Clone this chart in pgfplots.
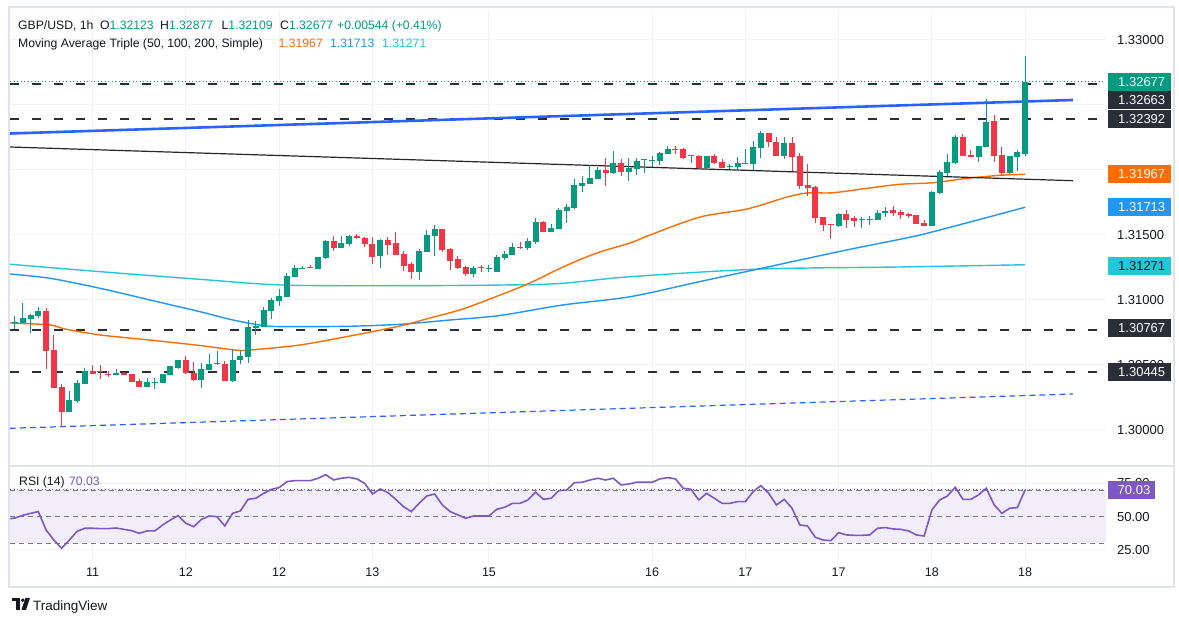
\documentclass[border=0pt]{standalone}
\usepackage{pgfplots}
\pgfplotsset{compat=1.18}
\usepackage{pgfplotstable}
\usepackage{fontspec}
\setmainfont{Liberation Sans}
\definecolor{tvgreen}{HTML}{089981}
\definecolor{tvred}{HTML}{F23645}
\definecolor{maor}{HTML}{FF6D00}
\definecolor{mabl}{HTML}{2196F3}
\definecolor{macy}{HTML}{26C6DA}
\definecolor{tline}{HTML}{2962FF}
\definecolor{txt}{HTML}{131722}
\definecolor{gridc}{HTML}{F0F3FA}
\definecolor{bord}{HTML}{E0E3EB}
\definecolor{hline}{HTML}{2A2E39}
\definecolor{rsic}{HTML}{7E57C2}
\definecolor{rsibg}{HTML}{F2EEF9}
\definecolor{bandc}{HTML}{787B86}

\pgfplotstableread{
i o h l c
0 1.30823 1.30877 1.30777 1.30831
1 1.30825 1.30977 1.30823 1.30862
2 1.30856 1.30892 1.30748 1.30887
3 1.30879 1.30946 1.30864 1.30915
7 1.30141 1.30302 1.30141 1.30231
8 1.30225 1.30385 1.30210 1.30362
9 1.30356 1.30475 1.30356 1.30454
13 1.30425 1.30469 1.30425 1.30438
17 1.30333 1.30400 1.30333 1.30367
18 1.30364 1.30400 1.30318 1.30369
19 1.30364 1.30428 1.30364 1.30428
20 1.30425 1.30490 1.30425 1.30490
21 1.30479 1.30536 1.30472 1.30536
24 1.30385 1.30513 1.30325 1.30469
25 1.30464 1.30582 1.30464 1.30508
26 1.30508 1.30605 1.30498 1.30513
28 1.30377 1.30623 1.30372 1.30538
29 1.30538 1.30615 1.30505 1.30569
30 1.30564 1.30846 1.30518 1.30792
31 1.30787 1.30838 1.30731 1.30802
32 1.30792 1.30944 1.30792 1.30923
33 1.30918 1.31013 1.30856 1.31000
34 1.30995 1.31085 1.30956 1.31031
35 1.31025 1.31205 1.31025 1.31185
36 1.31179 1.31269 1.31179 1.31244
37 1.31241 1.31259 1.31241 1.31246
39 1.31241 1.31331 1.31241 1.31331
40 1.31325 1.31462 1.31318 1.31454
42 1.31402 1.31492 1.31402 1.31438
43 1.31433 1.31500 1.31418 1.31495
47 1.31338 1.31467 1.31248 1.31462
52 1.31218 1.31392 1.31152 1.31377
53 1.31372 1.31538 1.31372 1.31498
54 1.31495 1.31579 1.31341 1.31544
59 1.31202 1.31259 1.31179 1.31246
61 1.31236 1.31269 1.31218 1.31244
62 1.31218 1.31346 1.31218 1.31331
63 1.31325 1.31377 1.31310 1.31354
64 1.31346 1.31438 1.31346 1.31408
66 1.31402 1.31475 1.31385 1.31454
67 1.31448 1.31631 1.31431 1.31600
69 1.31525 1.31585 1.31525 1.31554
70 1.31546 1.31705 1.31546 1.31692
71 1.31685 1.31738 1.31595 1.31715
72 1.31708 1.31928 1.31700 1.31885
73 1.31879 1.31954 1.31831 1.31900
74 1.31895 1.32036 1.31895 1.31938
75 1.31933 1.32025 1.31933 1.32000
77 1.31977 1.32146 1.31972 1.32054
79 1.31987 1.32092 1.31915 1.32015
80 1.32010 1.32092 1.31959 1.32067
81 1.32075 1.32082 1.31979 1.32082
82 1.32072 1.32108 1.32021 1.32077
83 1.32072 1.32138 1.32041 1.32133
84 1.32125 1.32185 1.32125 1.32162
87 1.32108 1.32113 1.32056 1.32113
89 1.32018 1.32108 1.32018 1.32108
92 1.32025 1.32044 1.32010 1.32033
93 1.32025 1.32098 1.32000 1.32056
94 1.32048 1.32162 1.32048 1.32056
95 1.32048 1.32221 1.32000 1.32177
96 1.32172 1.32302 1.32095 1.32287
99 1.32110 1.32254 1.32082 1.32208
106 1.31569 1.31667 1.31559 1.31659
109 1.31615 1.31636 1.31556 1.31623
110 1.31615 1.31644 1.31577 1.31623
111 1.31615 1.31690 1.31615 1.31672
112 1.31672 1.31713 1.31641 1.31687
118 1.31572 1.31836 1.31572 1.31828
119 1.31823 1.32000 1.31815 1.31985
120 1.31977 1.32123 1.31956 1.32062
121 1.32054 1.32272 1.32046 1.32254
124 1.32102 1.32185 1.32064 1.32185
125 1.32177 1.32546 1.32177 1.32372
128 1.31977 1.32108 1.31969 1.32108
129 1.32100 1.32156 1.31995 1.32138
130 1.32123 1.32877 1.32109 1.32677
}\greendata

\pgfplotstableread{
i o h l c
4 1.30915 1.30936 1.30469 1.30610
5 1.30615 1.30731 1.30325 1.30325
6 1.30331 1.30354 1.30021 1.30141
10 1.30454 1.30498 1.30433 1.30433
11 1.30454 1.30498 1.30395 1.30444
12 1.30433 1.30454 1.30410 1.30425
14 1.30441 1.30448 1.30425 1.30425
15 1.30431 1.30431 1.30372 1.30372
16 1.30377 1.30392 1.30333 1.30333
22 1.30536 1.30569 1.30428 1.30436
23 1.30436 1.30525 1.30377 1.30385
27 1.30508 1.30533 1.30379 1.30379
38 1.31254 1.31269 1.31246 1.31246
41 1.31454 1.31492 1.31379 1.31402
44 1.31492 1.31505 1.31467 1.31475
45 1.31475 1.31482 1.31410 1.31431
46 1.31431 1.31485 1.31277 1.31333
48 1.31462 1.31482 1.31346 1.31423
49 1.31438 1.31523 1.31348 1.31348
50 1.31354 1.31377 1.31225 1.31262
51 1.31277 1.31292 1.31164 1.31218
55 1.31544 1.31544 1.31367 1.31387
56 1.31392 1.31402 1.31233 1.31302
57 1.31315 1.31336 1.31238 1.31248
58 1.31254 1.31259 1.31185 1.31202
60 1.31252 1.31269 1.31218 1.31244
65 1.31408 1.31444 1.31392 1.31400
68 1.31600 1.31608 1.31525 1.31525
76 1.32000 1.32092 1.31879 1.31979
78 1.32054 1.32085 1.31956 1.31987
85 1.32162 1.32185 1.32125 1.32154
86 1.32162 1.32169 1.32087 1.32090
88 1.32108 1.32118 1.32010 1.32018
90 1.32108 1.32123 1.32044 1.32056
91 1.32062 1.32085 1.32018 1.32018
97 1.32287 1.32287 1.32177 1.32213
98 1.32218 1.32254 1.32110 1.32110
100 1.32208 1.32254 1.31995 1.32102
101 1.32108 1.32128 1.31852 1.31879
102 1.31887 1.32046 1.31802 1.31864
103 1.31867 1.31877 1.31590 1.31633
104 1.31641 1.31641 1.31528 1.31579
105 1.31585 1.31585 1.31467 1.31577
107 1.31659 1.31692 1.31552 1.31618
108 1.31631 1.31644 1.31564 1.31610
113 1.31692 1.31723 1.31648 1.31669
114 1.31677 1.31692 1.31621 1.31654
115 1.31662 1.31672 1.31631 1.31648
116 1.31654 1.31654 1.31587 1.31587
117 1.31592 1.31618 1.31572 1.31572
122 1.32254 1.32279 1.32110 1.32110
123 1.32115 1.32154 1.32100 1.32100
126 1.32377 1.32423 1.32062 1.32108
127 1.32115 1.32177 1.31954 1.31977
}\reddata

\pgfplotstableread{
i r
-0.6 48.5
0 49.0
1 51.0
2 52.5
3 53.8
4 40.0
5 32.5
6 26.3
7 32.5
8 39.0
9 41.3
10 41.3
11 41.0
12 41.0
13 41.5
14 40.5
15 39.5
16 37.5
17 39.3
18 39.3
19 43.8
20 47.5
21 50.8
22 45.0
23 42.5
24 48.0
25 50.5
26 50.0
27 43.0
28 52.5
29 54.3
30 63.0
31 63.8
32 67.5
33 70.5
34 71.8
35 76.3
36 77.0
37 77.0
38 77.0
39 78.8
40 81.5
41 77.5
42 78.8
43 79.5
44 78.3
45 75.0
46 67.0
47 70.8
48 68.0
49 63.0
50 57.5
51 53.8
52 60.0
53 65.5
54 67.0
55 58.8
56 53.8
57 51.3
58 48.8
59 50.5
60 50.5
61 50.5
62 55.5
63 57.0
64 60.0
65 60.0
66 62.5
67 68.3
68 63.0
69 63.8
70 69.5
71 70.0
72 75.5
73 75.8
74 77.5
75 78.8
76 77.5
77 78.8
78 73.8
79 74.5
80 75.8
81 75.8
82 75.8
83 78.3
84 79.3
85 78.3
86 71.3
87 70.5
88 62.5
89 67.5
90 63.8
91 60.0
92 60.0
93 61.3
94 61.3
95 68.8
96 73.3
97 67.5
98 58.8
99 63.0
100 56.3
101 43.8
102 43.0
103 34.5
104 32.5
105 32.0
106 38.0
107 36.3
108 36.0
109 36.0
110 36.3
111 41.3
112 41.8
113 40.8
114 40.5
115 39.3
116 36.3
117 35.5
118 55.0
119 62.5
120 65.5
121 72.0
122 63.0
123 63.0
124 66.3
125 71.3
126 59.0
127 52.5
128 56.3
129 56.8
130 70.03
}\rsidata

\begin{document}
\begin{tikzpicture}[x=1pt,y=1pt]
\useasboundingbox (0,0) rectangle (1179,623);
\fill[white] (0,0) rectangle (1179,623);

% ---------- price pane ----------
\begin{axis}[at={(10pt,157pt)}, anchor=south west, scale only axis,
  width=1096pt, height=456pt,
  xmin=-0.643, xmax=140.41, ymin=1.297231, ymax=1.332308,
  axis line style={draw=none}, major tick length=0pt,
  xtick={10,22,34,46,61,82,94,106,118,130}, xticklabels={},
  ytick={1.300,1.305,1.310,1.315,1.320,1.325,1.330},
  yticklabels={1.30000,1.30500,1.31000,1.31500,,,1.33000},
  grid=major, major grid style={draw=gridc, line width=1pt},
  yticklabel pos=right, scaled y ticks=false,
  yticklabel style={font=\fontsize{13}{15}\selectfont, text=txt, anchor=west, xshift=7.5pt},
  clip=true]
% horizontal levels
\addplot[hline, line width=2pt, dash pattern=on 9pt off 13pt] coordinates {(-0.643,1.32663) (140.41,1.32663)};
\addplot[tvgreen, line width=1pt, dash pattern=on 1pt off 2.5pt] coordinates {(-0.643,1.32677) (140.41,1.32677)};
\addplot[hline, line width=2pt, dash pattern=on 9pt off 13pt] coordinates {(-0.643,1.32392) (140.41,1.32392)};
\addplot[hline, line width=2pt, dash pattern=on 9pt off 13pt] coordinates {(-0.643,1.30767) (140.41,1.30767)};
\addplot[hline, line width=2pt, dash pattern=on 9pt off 13pt] coordinates {(-0.643,1.30445) (140.41,1.30445)};
% moving averages
\addplot[macy, line width=1.4pt, smooth] coordinates {
(-0.64,1.31275) (10.94,1.31218) (23.81,1.31159) (34.49,1.31115) (49.55,1.31110)
(62.42,1.31115) (70.14,1.31127) (79.15,1.31179) (95.88,1.31238) (113.90,1.31254) (130,1.31271)};
\addplot[mabl, line width=1.4pt, smooth] coordinates {
(-0.64,1.31200) (4.50,1.31167) (10.94,1.31090) (17.37,1.31000) (23.81,1.30910)
(28.06,1.30846) (32.43,1.30800) (36.68,1.30795) (43.11,1.30798) (49.55,1.30813)
(55.98,1.30846) (62.42,1.30881) (70.53,1.30962) (79.15,1.31025) (88.16,1.31142)
(95.88,1.31241) (101.03,1.31308) (107.46,1.31390) (114.54,1.31475) (118.15,1.31525) (130,1.31713)};
\addplot[maor, line width=1.4pt, smooth] coordinates {
(-0.64,1.30823) (4.50,1.30808) (6.44,1.30777) (10.94,1.30731) (17.37,1.30692)
(23.81,1.30650) (28.31,1.30615) (30.24,1.30615) (36.68,1.30654) (43.11,1.30723)
(49.55,1.30800) (53.41,1.30862) (57.66,1.30931) (62.42,1.31038) (66.28,1.31131)
(70.53,1.31254) (74.90,1.31362) (79.15,1.31438) (81.72,1.31500) (88.16,1.31638)
(94.21,1.31700) (99.36,1.31792) (101.93,1.31823) (105.28,1.31825) (109.65,1.31859)
(113.90,1.31890) (118.15,1.31902) (122.52,1.31936) (126.77,1.31959) (130,1.31967)};
% trend lines
\addplot[black!85, line width=1.2pt] coordinates {(-0.643,1.321769) (136.16,1.319177)};
\addplot[tline, line width=1.2pt, dash pattern=on 6pt off 4pt] coordinates {(-0.643,1.300131) (136.16,1.302769)};
\addplot[tline, line width=2.6pt] coordinates {(-0.643,1.322808) (136.16,1.325385)};
% candles: wicks
\addplot[draw=none, error bars/.cd, y dir=plus, y explicit, error mark=none,
  error bar style={draw=tvgreen, line width=1pt}]
  table[x=i, y=l, y error plus expr=\thisrow{h}-\thisrow{l}] {\greendata};
\addplot[draw=none, error bars/.cd, y dir=plus, y explicit, error mark=none,
  error bar style={draw=tvred, line width=1pt}]
  table[x=i, y=l, y error plus expr=\thisrow{h}-\thisrow{l}] {\reddata};
% candles: bodies
\addplot[draw=none, error bars/.cd, y dir=plus, y explicit, error mark=none,
  error bar style={draw=tvgreen, line width=6pt}]
  table[x=i, y=o, y error plus expr=\thisrow{c}-\thisrow{o}] {\greendata};
\addplot[draw=none, error bars/.cd, y dir=plus, y explicit, error mark=none,
  error bar style={draw=tvred, line width=6pt}]
  table[x=i, y=c, y error plus expr=\thisrow{o}-\thisrow{c}] {\reddata};
\end{axis}

% ---------- RSI pane ----------
\begin{axis}[at={(10pt,61pt)}, anchor=south west, scale only axis,
  width=1096pt, height=96pt,
  xmin=-0.643, xmax=140.41, ymin=16, ymax=88,
  axis line style={draw=none}, major tick length=0pt,
  xtick={10,22,34,46,61,82,94,106,118,130},
  xticklabels={11,12,12,13,15,16,17,17,18,18},
  xticklabel style={font=\fontsize{12.5}{14}\selectfont, text=txt, anchor=base, yshift=-14.5pt},
  ytick={25,50,75},
  yticklabels={25.00,50.00,75.00},
  grid=major, major grid style={draw=gridc, line width=1pt},
  yticklabel pos=right,
  yticklabel style={font=\fontsize{13}{15}\selectfont, text=txt, anchor=west, xshift=7.5pt},
  clip=true]
\addplot[draw=none, fill=rsibg] coordinates {(-0.643,30) (140.41,30) (140.41,70) (-0.643,70)} -- cycle;
\addplot[bandc, line width=0.9pt, dash pattern=on 5pt off 4pt] coordinates {(-0.643,70) (140.41,70)};
\addplot[bandc, line width=0.9pt, dash pattern=on 5pt off 4pt] coordinates {(-0.643,50) (140.41,50)};
\addplot[bandc, line width=0.9pt, dash pattern=on 5pt off 4pt] coordinates {(-0.643,30) (140.41,30)};
\addplot[rsic, line width=1pt, dash pattern=on 1.2pt off 2.3pt] coordinates {(-0.643,70.03) (140.41,70.03)};
\addplot[rsic, line width=1.6pt] table[x=i, y=r] {\rsidata};
\end{axis}

% frame and separator
\draw[bord, line width=1.5pt] (9,616) rectangle (1174,36);
\draw[bord, line width=1.2pt] (9,157) -- (1174,157);

% price scale labels
\def\plab#1#2#3#4{\fill[#2] (1108,#1-9) rectangle (1171,#1+9);
  \node[anchor=west, inner sep=0, text=#3, font=\fontsize{13}{15}\selectfont] at (1118,#1) {#4};}
\plab{540.5}{tvgreen}{white}{1.32677}
\plab{523.3}{hline}{white}{1.32663}
\plab{504}{hline}{white}{1.32392}
\plab{448.5}{maor}{white}{1.31967}
\plab{416.2}{mabl}{white}{1.31713}
\plab{357.3}{macy}{txt}{1.31271}
\plab{294.5}{hline}{white}{1.30767}
\plab{250.5}{hline}{white}{1.30445}
\fill[rsic] (1108,124) rectangle (1155,142);
\node[anchor=west, inner sep=0, text=white, font=\fontsize{13}{15}\selectfont] at (1117.5,133) {70.03};

% header texts
\begin{scope}[every node/.style={anchor=base west, inner sep=0, font=\fontsize{12.2}{14}\selectfont, text=txt}]
\node at (18,593.7) {GBP/USD, 1h};
\node at (100,593.7) {O\textcolor{tvgreen}{1.32123}};
\node at (160,593.7) {H\textcolor{tvgreen}{1.32877}};
\node at (221.5,593.7) {L\textcolor{tvgreen}{1.32109}};
\node at (280,593.7) {C\textcolor{tvgreen}{1.32677}};
\node at (337,593.7) {\textcolor{tvgreen}{+0.00544 (+0.41\%)}};
\node at (18,575.2) {Moving Average Triple (50, 100, 200, Simple)};
\node at (278.5,575.2) {\textcolor{maor}{1.31967}};
\node at (330,575.2) {\textcolor{mabl}{1.31713}};
\node at (382,575.2) {\textcolor{macy}{1.31271}};
\node at (19,137) {RSI (14)};
\node at (69,137) {\textcolor{rsic}{70.03}};
\end{scope}

% TradingView logo
\fill[txt] (12,624-599) rectangle (19.5,624-602.5);
\fill[txt] (15.5,624-599) rectangle (19.5,624-611);
\fill[txt] (22.8,624-601.2) circle (1.9);
\fill[txt] (25.5,624-599) -- (30,624-599) -- (26,624-611) -- (21.5,624-611) -- cycle;
\node[anchor=base west, inner sep=0, font=\fontsize{13.5}{15}\selectfont, text=txt] at (33,12) {TradingView};
\end{tikzpicture}
\end{document}
